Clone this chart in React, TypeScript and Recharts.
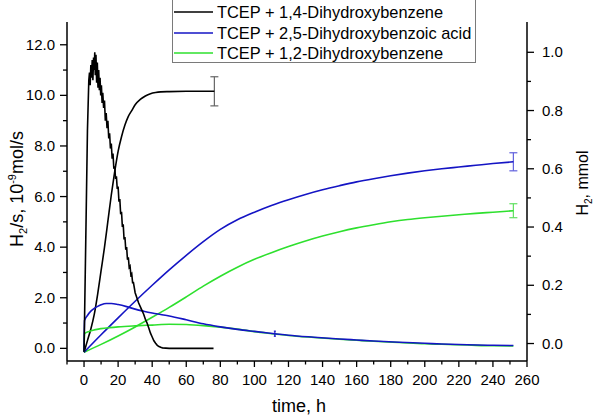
import { ComposedChart, Line, XAxis, YAxis, ErrorBar } from "recharts";

const FONT = "'Liberation Sans', Arial, sans-serif";

// tick positions
const timeTicks = [-10, 0, 10, 20, 30, 40, 50, 60, 70, 80, 90, 100, 110, 120, 130, 140, 150, 160, 170, 180, 190, 200, 210, 220, 230, 240, 250, 260];
const rateTicks = [0, 1, 2, 3, 4, 5, 6, 7, 8, 9, 10, 11, 12];
const amountTicks = [0, 0.1, 0.2, 0.3, 0.4, 0.5, 0.6, 0.7, 0.8, 0.9, 1.0];

const seriesNames = [
  "TCEP + 1,4-Dihydroxybenzene",
  "TCEP + 2,5-Dihydroxybenzoic acid",
  "TCEP + 1,2-Dihydroxybenzene",
];
const seriesColors = ["#000000", "#1414c4", "#2ee02e"];
const errColors = ["#666666", "#6060dd", "#60e060"];

// H2S rate, 10^-9 mol/s  [time h, value]
const rate14 = [
  [0, -0.13], [1, 4.2], [2, 8.6], [2.8, 10.6], [3.2, 10.9], [3.6, 10.4], [4, 11.2], [4.4, 10.7],
  [4.8, 11.4], [5.2, 10.6], [5.6, 11.5], [6, 11.0], [6.3, 11.7], [6.6, 10.8], [7, 11.6], [7.4, 10.5],
  [7.8, 11.3], [8.2, 10.3], [8.6, 11.0], [9, 10.2], [9.4, 10.7], [9.8, 10.0], [10.2, 10.4], [10.6, 9.7],
  [11, 10.1], [11.5, 9.5], [12, 9.8], [12.5, 9.0], [13, 9.3], [13.5, 8.7], [14, 9.0], [14.5, 8.3],
  [15, 8.5], [15.5, 7.9], [16, 8.1], [16.5, 7.5], [17, 7.7], [17.5, 7.1], [18, 7.2], [18.5, 6.7],
  [19, 6.8], [19.5, 6.3], [20, 6.4], [20.5, 5.8], [21, 5.9], [21.5, 5.3], [22, 5.4], [22.5, 4.8],
  [23, 4.9], [23.5, 4.3], [24, 4.4], [24.5, 3.9], [25, 4.0], [25.5, 3.5], [26, 3.6], [26.5, 3.2],
  [27, 3.25], [27.5, 2.9], [28, 2.95], [28.5, 2.6], [29, 2.6], [30, 2.2], [31, 2.0], [32, 1.8],
  [33, 1.65], [34, 1.5], [35, 1.35], [36, 1.15], [37, 1.0], [38, 0.8], [39, 0.6], [40, 0.45],
  [41, 0.3], [42, 0.2], [43, 0.12], [44, 0.07], [45, 0.04], [46, 0.02], [48, 0.01], [50, 0.0],
  [60, 0.0], [76, 0.0],
];
const rate25 = [
  [0, -0.13], [0.3, 1.1], [2, 1.3], [4, 1.47], [6, 1.58], [8, 1.66], [10, 1.72], [13, 1.77], [16, 1.77],
  [20, 1.73], [25, 1.65], [30, 1.55], [35, 1.47], [40, 1.4], [45, 1.34], [50, 1.28], [60, 1.13],
  [70, 0.97], [80, 0.85], [90, 0.75], [100, 0.67], [112, 0.58], [120, 0.52], [135, 0.44], [150, 0.37],
  [160, 0.33], [170, 0.29], [185, 0.24], [200, 0.2], [210, 0.17], [225, 0.14], [240, 0.12], [252, 0.11],
];
const rate12 = [
  [0, -0.13], [0.3, 0.58], [3, 0.67], [6, 0.73], [10, 0.78], [15, 0.82], [20, 0.85], [30, 0.89],
  [40, 0.92], [50, 0.95], [60, 0.94], [70, 0.9], [80, 0.84], [90, 0.76], [100, 0.66], [112, 0.57],
  [120, 0.51], [135, 0.43], [150, 0.36], [160, 0.32], [170, 0.28], [185, 0.23], [200, 0.18],
  [210, 0.16], [225, 0.13], [240, 0.1], [252, 0.09],
];

// cumulative H2, mmol  [time h, value]
const total14 = [
  [0, -0.03], [2, 0.01], [4, 0.05], [6, 0.1], [8, 0.17], [10, 0.25], [12, 0.33], [14, 0.42],
  [16, 0.51], [18, 0.59], [20, 0.66], [22, 0.71], [24, 0.75], [26, 0.78], [28, 0.8], [30, 0.82],
  [33, 0.838], [36, 0.85], [39, 0.858], [42, 0.862], [45, 0.864], [50, 0.865], [60, 0.866], [76.5, 0.866],
];
const total25 = [
  [0, -0.03], [10, 0.03], [20, 0.088], [30, 0.145], [40, 0.2], [50, 0.253], [60, 0.303], [70, 0.35],
  [80, 0.392], [90, 0.425], [100, 0.451], [110, 0.474], [120, 0.494], [130, 0.512], [140, 0.528],
  [150, 0.542], [160, 0.555], [170, 0.566], [180, 0.576], [190, 0.585], [200, 0.593], [210, 0.6],
  [220, 0.606], [230, 0.612], [240, 0.618], [252, 0.624],
];
const total12 = [
  [0, -0.03], [10, -0.003], [20, 0.026], [30, 0.057], [40, 0.09], [50, 0.124], [60, 0.16], [70, 0.197],
  [80, 0.231], [90, 0.262], [100, 0.289], [110, 0.312], [120, 0.333], [130, 0.352], [140, 0.369],
  [150, 0.384], [160, 0.397], [170, 0.408], [180, 0.418], [190, 0.426], [200, 0.432], [210, 0.437],
  [220, 0.442], [230, 0.447], [240, 0.451], [252, 0.456],
];

// error on final amount, mmol
const totalErrs = [0.05, 0.031, 0.024];
// single error mark on the 2,5-DHBA rate curve
const rateMarkT = 112;
const rateMarkErr = 0.1;

const toRows = (pts: number[][], errAtT?: number, err?: number) =>
  pts.map(([t, v]) => (t === errAtT ? { t, v, err } : { t, v }));
const lastT = (pts: number[][]) => pts[pts.length - 1][0];

const BottomTick = (props: any) => {
  const { x, y, payload } = props;
  const major = payload.value % 20 === 0;
  return (
    <g>
      <line x1={x} y1={y} x2={x} y2={y + (major ? 6 : 3.5)} stroke="#000" strokeWidth={1.3} />
      {major && (
        <text x={x} y={y + 24} textAnchor="middle" fontSize={15} fontFamily={FONT} fill="#000">
          {payload.value}
        </text>
      )}
    </g>
  );
};

const LeftTick = (props: any) => {
  const { x, y, payload } = props;
  const major = payload.value % 2 === 0;
  return (
    <g>
      <line x1={x} y1={y} x2={x - (major ? 7 : 4)} y2={y} stroke="#000" strokeWidth={1.3} />
      {major && (
        <text x={x - 12} y={y + 5} textAnchor="end" fontSize={15} fontFamily={FONT} fill="#000">
          {payload.value.toFixed(1)}
        </text>
      )}
    </g>
  );
};

const RightTick = (props: any) => {
  const { x, y, payload } = props;
  const major = Math.round(payload.value * 10) % 2 === 0;
  return (
    <g>
      <line x1={x} y1={y} x2={x + (major ? 7 : 4)} y2={y} stroke="#000" strokeWidth={1.3} />
      {major && (
        <text x={x + 15} y={y + 5} textAnchor="start" fontSize={15} fontFamily={FONT} fill="#000">
          {payload.value.toFixed(1)}
        </text>
      )}
    </g>
  );
};

const TimeTitle = () => (
  <text x={299} y={412} textAnchor="middle" fontSize={18} fontFamily={FONT} fill="#000">
    time, h
  </text>
);

const RateTitle = () => (
  <text transform="translate(23,189) rotate(-90)" textAnchor="middle" fontSize={18} fontFamily={FONT} fill="#000">
    H<tspan dy={4} fontSize={11}>2</tspan>
    <tspan dy={-4}>/s, 10</tspan>
    <tspan dy={-7} fontSize={11}>-9</tspan>
    <tspan dy={7}>mol/s</tspan>
  </text>
);

const AmountTitle = () => (
  <text transform="translate(588,183) rotate(-90)" textAnchor="middle" fontSize={16} fontFamily={FONT} fill="#000">
    H<tspan dy={4} fontSize={10}>2</tspan>
    <tspan dy={-4}>, mmol</tspan>
  </text>
);

const LegendBox = () => (
  <div
    style={{
      position: "absolute",
      left: 172,
      top: -1,
      width: 302,
      height: 62,
      border: "1px solid #7a7a7a",
      background: "#fff",
      fontFamily: FONT,
      fontSize: 16.4,
    }}
  >
    {seriesNames.map((name, i) => (
      <div
        key={name}
        style={{ position: "absolute", left: 0, top: 2 + i * 20.5, height: 20, display: "flex", alignItems: "center" }}
      >
        <svg width={40} height={20}>
          <line x1={1} y1={10} x2={40} y2={10} stroke={seriesColors[i]} strokeWidth={1.6} />
        </svg>
        <span style={{ marginLeft: 4, whiteSpace: "nowrap", lineHeight: "20px" }}>{name}</span>
      </div>
    ))}
  </div>
);

export default function App() {
  return (
    <div style={{ position: "absolute", left: 0, top: 0, width: 600, height: 418, background: "#fff" }}>
      <ComposedChart width={600} height={418} margin={{ top: 22, right: 13, bottom: 27, left: 7 }}>
        <XAxis
          type="number"
          dataKey="t"
          domain={[-10, 260]}
          ticks={timeTicks}
          interval={0}
          height={30}
          tickSize={0}
          tickMargin={0}
          tickLine={false}
          tick={<BottomTick />}
          axisLine={{ stroke: "#000", strokeWidth: 1.5 }}
          allowDataOverflow
          label={<TimeTitle />}
        />
        <YAxis
          yAxisId="L"
          type="number"
          domain={[-0.5, 12.9]}
          ticks={rateTicks}
          interval={0}
          width={60}
          tickSize={0}
          tickMargin={0}
          tickLine={false}
          tick={<LeftTick />}
          axisLine={{ stroke: "#000", strokeWidth: 1.5 }}
          allowDataOverflow
          label={<RateTitle />}
        />
        <YAxis
          yAxisId="R"
          orientation="right"
          type="number"
          domain={[-0.06, 1.104]}
          ticks={amountTicks}
          interval={0}
          width={60}
          tickSize={0}
          tickMargin={0}
          tickLine={false}
          tick={<RightTick />}
          axisLine={{ stroke: "#000", strokeWidth: 1.5 }}
          allowDataOverflow
          label={<AmountTitle />}
        />

        <Line yAxisId="R" type="monotone" data={toRows(total12, lastT(total12), totalErrs[2])} dataKey="v" stroke={seriesColors[2]} strokeWidth={1.6} dot={false} isAnimationActive={false}>
          <ErrorBar dataKey="err" direction="y" width={4} stroke={errColors[2]} strokeWidth={1.2} />
        </Line>
        <Line yAxisId="R" type="monotone" data={toRows(total25, lastT(total25), totalErrs[1])} dataKey="v" stroke={seriesColors[1]} strokeWidth={1.6} dot={false} isAnimationActive={false}>
          <ErrorBar dataKey="err" direction="y" width={4} stroke={errColors[1]} strokeWidth={1.2} />
        </Line>
        <Line yAxisId="R" type="monotone" data={toRows(total14, lastT(total14), totalErrs[0])} dataKey="v" stroke={seriesColors[0]} strokeWidth={1.6} dot={false} isAnimationActive={false}>
          <ErrorBar dataKey="err" direction="y" width={4} stroke={errColors[0]} strokeWidth={1.2} />
        </Line>
        <Line yAxisId="L" type="monotone" data={toRows(rate12)} dataKey="v" stroke={seriesColors[2]} strokeWidth={1.6} dot={false} isAnimationActive={false} />
        <Line yAxisId="L" type="monotone" data={toRows(rate25, rateMarkT, rateMarkErr)} dataKey="v" stroke={seriesColors[1]} strokeWidth={1.6} dot={false} isAnimationActive={false}>
          <ErrorBar dataKey="err" direction="y" width={1} stroke={seriesColors[1]} strokeWidth={1.2} />
        </Line>
        <Line yAxisId="L" data={toRows(rate14)} dataKey="v" stroke={seriesColors[0]} strokeWidth={1.6} dot={false} isAnimationActive={false} />
      </ComposedChart>
      <LegendBox />
    </div>
  );
}
